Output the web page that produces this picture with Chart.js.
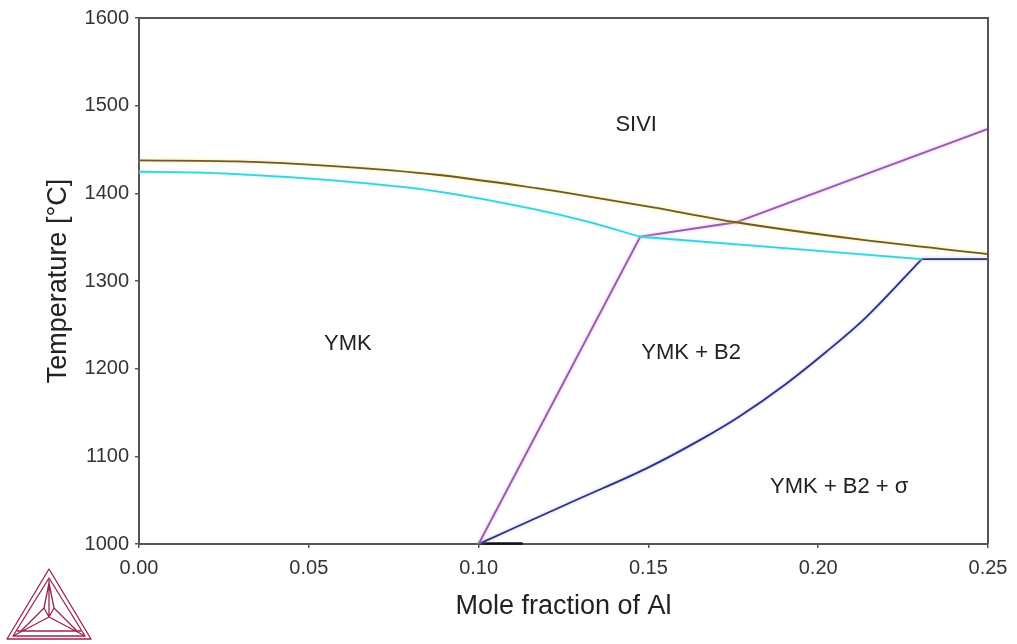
<!DOCTYPE html>
<html>
<head>
<meta charset="utf-8">
<script src="https://cdn.jsdelivr.net/npm/chart.js@4.4.1/dist/chart.umd.min.js"></script>
<style>
  html, body { margin: 0; padding: 0; background: #fff; }
  #wrap { width: 1017px; height: 644px; position: relative; }
</style>
</head>
<body>
<div id="wrap"><canvas id="phase"></canvas></div>
<script>
// Isopleth section: mole fraction of Al vs temperature

// Liquidus (SIVI / YMK boundary, upper line)
const liquidusX = [0, 0.0288, 0.0582, 0.0876, 0.117, 0.1238, 0.1514, 0.1758, 0.212, 0.25];
const liquidusT = [1437.5, 1436.4, 1430.7, 1421.2, 1406, 1402, 1384, 1367, 1347.4, 1330.7];

// Solidus, curved part up to the B2 kink
const solidusX = [0, 0.0141, 0.0288, 0.0582, 0.0876, 0.117, 0.1318, 0.1476];
const solidusT = [1424.6, 1423.9, 1422, 1414.4, 1402.3, 1381.4, 1368, 1350.5];

// Solidus, straight part from the kink to the σ corner
const solidus2X = [0.1476, 0.1826, 0.2305];
const solidus2T = [1350.5, 1339.7, 1325];

// B2 ordering boundary (lower and upper branches)
const b2LowX = [0.1, 0.1476];
const b2LowT = [1000, 1350.5];
const b2HighX = [0.1476, 0.1758, 0.25];
const b2HighT = [1350.5, 1367, 1473.5];

// σ boundary
const sigmaX = [0.1003, 0.1297, 0.1493, 0.165, 0.1768, 0.1905, 0.2023, 0.214, 0.2305];
const sigmaT = [1000.5, 1051.9, 1086, 1118.2, 1145.5, 1182.6, 1219, 1258.3, 1325];
const sigmaTopX = [0.2305, 0.25];
const sigmaTopT = [1325, 1325];

// Short sliver along the bottom edge
const sliverX = [0.1, 0.113];
const sliverT = [1000.6, 1000.6];

// Axis ticks
const xTicks = [0, 0.05, 0.10, 0.15, 0.20, 0.25];
const yTicks = [1000, 1100, 1200, 1300, 1400, 1500, 1600];

// Phase region labels
const regionNames = ['SIVI', 'YMK', 'YMK + B2', 'YMK + B2 + σ'];
const regionX = [0.1464, 0.0615, 0.1626, 0.2062];
const regionT = [1478, 1228, 1218.5, 1065];

const FONT = '"Liberation Sans", Arial, Helvetica, sans-serif';

function pts(xs, ys) { return xs.map((x, i) => ({ x: x, y: ys[i] })); }

function line(label, xs, ys, color, halo, opts) {
  return Object.assign({
    label: label,
    data: pts(xs, ys),
    showLine: true,
    borderColor: color,
    backgroundColor: color,
    borderWidth: 1.8,
    pointRadius: 0,
    pointHoverRadius: 0,
    tension: 0,
    clip: false,
    halo: halo
  }, opts || {});
}

// soft glow under each curve
const haloPlugin = {
  id: 'halo',
  beforeDatasetDraw(chart, args) {
    const ds = chart.data.datasets[args.index];
    chart.ctx.save();
    if (ds.halo) {
      chart.ctx.shadowColor = ds.halo;
      chart.ctx.shadowBlur = 3;
    }
  },
  afterDatasetDraw(chart) {
    chart.ctx.restore();
  }
};

// box round the plot, region labels and the logo
const decorPlugin = {
  id: 'decor',
  afterDatasetsDraw(chart) {
    const { ctx, chartArea: a, scales } = chart;
    ctx.save();
    ctx.strokeStyle = '#555';
    ctx.lineWidth = 2;
    ctx.beginPath();
    ctx.moveTo(a.left, a.top);
    ctx.lineTo(a.right, a.top);
    ctx.lineTo(a.right, a.bottom);
    ctx.stroke();

    ctx.fillStyle = '#222';
    ctx.font = '22px ' + FONT;
    ctx.textAlign = 'center';
    ctx.textBaseline = 'middle';
    regionNames.forEach((name, i) => {
      ctx.fillText(name, scales.x.getPixelForValue(regionX[i]), scales.y.getPixelForValue(regionT[i]));
    });
    ctx.restore();
  },
  afterDraw(chart) {
    const ctx = chart.ctx;
    ctx.save();
    ctx.strokeStyle = '#9e2350';
    ctx.lineWidth = 1.3;
    ctx.lineJoin = 'round';
    const tri = (ax, ay, lx, ly, rx, ry) => {
      ctx.beginPath();
      ctx.moveTo(ax, ay); ctx.lineTo(lx, ly); ctx.lineTo(rx, ry); ctx.closePath(); ctx.stroke();
    };
    tri(49, 569, 7, 639, 91, 639);
    tri(49, 578, 13, 636, 85, 636);
    ctx.beginPath();
    ctx.moveTo(17, 631); ctx.lineTo(81, 631);
    // spokes from the centre node
    ctx.moveTo(49, 617); ctx.lineTo(49, 580);
    ctx.moveTo(49, 617); ctx.lineTo(13, 636);
    ctx.moveTo(49, 617); ctx.lineTo(85, 636);
    // inner kite
    ctx.moveTo(49, 583); ctx.lineTo(44, 608); ctx.lineTo(49, 617);
    ctx.moveTo(49, 583); ctx.lineTo(54, 608); ctx.lineTo(49, 617);
    ctx.moveTo(44, 608); ctx.lineTo(20, 632);
    ctx.moveTo(54, 608); ctx.lineTo(78, 632);
    ctx.stroke();
    ctx.restore();
  }
};

new Chart(document.getElementById('phase'), {
  type: 'scatter',
  data: {
    datasets: [
      line('Liquidus', liquidusX, liquidusT, '#6b5a2c', 'rgba(255,220,90,0.9)', { cubicInterpolationMode: 'monotone' }),
      line('Solidus', solidusX, solidusT, '#3fcfd8', 'rgba(150,240,245,0.9)', { cubicInterpolationMode: 'monotone' }),
      line('Solidus B2', solidus2X, solidus2T, '#3fcfd8', 'rgba(150,240,245,0.9)'),
      line('B2 low', b2LowX, b2LowT, '#8f5fae', 'rgba(245,150,240,0.9)'),
      line('B2 high', b2HighX, b2HighT, '#8f5fae', 'rgba(245,150,240,0.9)'),
      line('Sigma', sigmaX, sigmaT, '#2d3184', 'rgba(150,150,235,0.7)', { cubicInterpolationMode: 'monotone' }),
      line('Sigma top', sigmaTopX, sigmaTopT, '#2d3184', 'rgba(150,150,235,0.7)'),
      line('Sliver', sliverX, sliverT, '#111111', null, { borderWidth: 2.6 })
    ]
  },
  options: {
    responsive: true,
    maintainAspectRatio: false,
    animation: false,
    events: [],
    layout: { padding: { left: 0, top: 16, right: 29, bottom: 0 } },
    plugins: {
      legend: { display: false },
      tooltip: { enabled: false }
    },
    scales: {
      x: {
        type: 'linear',
        min: 0,
        max: 0.25,
        afterBuildTicks(scale) { scale.ticks = xTicks.map(v => ({ value: v })); },
        afterFit(scale) { scale.height = 100; },
        ticks: {
          callback: v => Number(v).toFixed(2),
          font: { family: FONT, size: 20 },
          color: '#333',
          padding: 8,
          maxRotation: 0
        },
        grid: { drawOnChartArea: false, drawTicks: true, tickLength: 4, color: '#555', lineWidth: 1.5 },
        border: { display: true, color: '#555', width: 2 },
        title: {
          display: true,
          text: 'Mole fraction of Al',
          font: { family: FONT, size: 27 },
          color: '#222',
          padding: { top: 0, bottom: 21 }
        }
      },
      y: {
        type: 'linear',
        min: 1000,
        max: 1600,
        afterBuildTicks(scale) { scale.ticks = yTicks.map(v => ({ value: v })); },
        afterFit(scale) { scale.width = 139; },
        ticks: {
          callback: v => String(v),
          font: { family: FONT, size: 20 },
          color: '#333',
          padding: 6
        },
        grid: { drawOnChartArea: false, drawTicks: true, tickLength: 4, color: '#555', lineWidth: 1.5 },
        border: { display: true, color: '#555', width: 2 },
        title: {
          display: true,
          text: 'Temperature [°C]',
          font: { family: FONT, size: 27 },
          color: '#222',
          padding: { top: 42, bottom: 0 }
        }
      }
    }
  },
  plugins: [haloPlugin, decorPlugin]
});
</script>
</body>
</html>
